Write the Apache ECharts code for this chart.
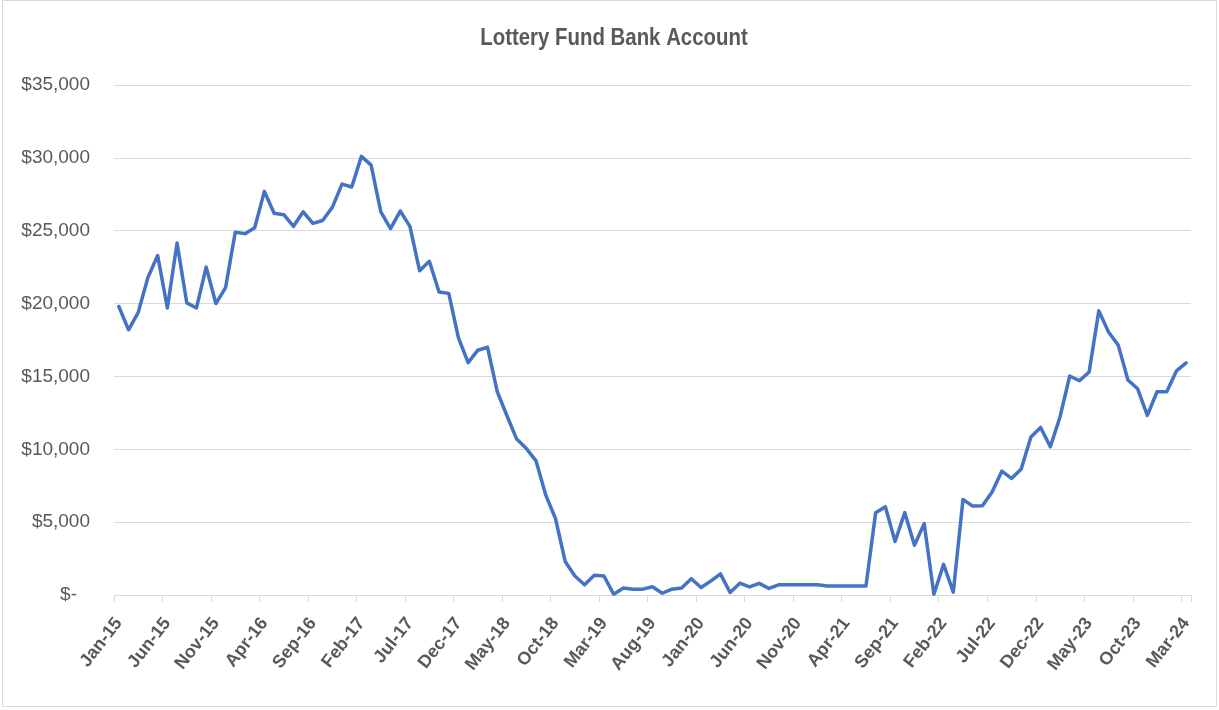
<!DOCTYPE html>
<html>
<head>
<meta charset="utf-8">
<script src="https://cdn.jsdelivr.net/npm/echarts@6/dist/echarts.min.js"></script>
<style>
html,body{margin:0;padding:0;background:#fff;}
#chart{width:1219px;height:710px;}
</style>
</head>
<body>
<div id="chart"></div>
<script>
var titleText = 'Lottery Fund Bank Account';

var months = [
  'Jan-15','Feb-15','Mar-15','Apr-15','May-15','Jun-15','Jul-15','Aug-15','Sep-15','Oct-15','Nov-15','Dec-15',
  'Jan-16','Feb-16','Mar-16','Apr-16','May-16','Jun-16','Jul-16','Aug-16','Sep-16','Oct-16','Nov-16','Dec-16',
  'Jan-17','Feb-17','Mar-17','Apr-17','May-17','Jun-17','Jul-17','Aug-17','Sep-17','Oct-17','Nov-17','Dec-17',
  'Jan-18','Feb-18','Mar-18','Apr-18','May-18','Jun-18','Jul-18','Aug-18','Sep-18','Oct-18','Nov-18','Dec-18',
  'Jan-19','Feb-19','Mar-19','Apr-19','May-19','Jun-19','Jul-19','Aug-19','Sep-19','Oct-19','Nov-19','Dec-19',
  'Jan-20','Feb-20','Mar-20','Apr-20','May-20','Jun-20','Jul-20','Aug-20','Sep-20','Oct-20','Nov-20','Dec-20',
  'Jan-21','Feb-21','Mar-21','Apr-21','May-21','Jun-21','Jul-21','Aug-21','Sep-21','Oct-21','Nov-21','Dec-21',
  'Jan-22','Feb-22','Mar-22','Apr-22','May-22','Jun-22','Jul-22','Aug-22','Sep-22','Oct-22','Nov-22','Dec-22',
  'Jan-23','Feb-23','Mar-23','Apr-23','May-23','Jun-23','Jul-23','Aug-23','Sep-23','Oct-23','Nov-23','Dec-23',
  'Jan-24','Feb-24','Mar-24'
];

var balance = [
  19800, 18200, 19400, 21800, 23300, 19700, 24150, 20050, 19700, 22500, 20000, 21100,
  24900, 24800, 25200, 27700, 26200, 26100, 25300, 26300, 25500, 25700, 26600, 28200,
  28000, 30100, 29500, 26300, 25150, 26350, 25300, 22250, 22900, 20800, 20700, 17650,
  15950, 16800, 17000, 13950, 12300, 10700, 10050, 9200, 6850, 5250, 2300, 1300,
  700, 1350, 1300, 50, 480, 400, 400, 570, 120, 400, 480, 1120,
  510, 950, 1450, 170, 810, 550, 800, 450, 700, 700, 700, 700,
  700, 620, 620, 620, 620, 620, 5650, 6050, 3670, 5650, 3420, 4900,
  50, 2100, 200, 6550, 6100, 6130, 7070, 8500, 8000, 8650, 10850, 11500,
  10170, 12220, 15030, 14700, 15300, 19500, 18050, 17150, 14750, 14150, 12330, 13950,
  13950, 15380, 15930
];

var yMin = 0, yMax = 35000, yStep = 5000;

var chart = echarts.init(document.getElementById('chart'));
var gray = '#595959';
chart.setOption({
  animation: false,
  backgroundColor: '#ffffff',
  graphic: [{
    type: 'rect',
    shape: {x: 2.5, y: 0.5, width: 1214, height: 706},
    style: {fill: 'none', stroke: '#D9D9D9', lineWidth: 1},
    silent: true, z: -1
  }, {
    type: 'text',
    x: 614,
    y: 38,
    scaleX: 0.85,
    silent: true,
    style: {
      x: 0, y: 0,
      text: titleText,
      font: 'bold 24px "Liberation Sans", Arial, sans-serif',
      fill: gray,
      textAlign: 'center',
      textVerticalAlign: 'middle',
      verticalAlign: 'middle'
    }
  }],
  grid: {left: 114, right: 28, top: 85, bottom: 115, containLabel: false},
  xAxis: {
    type: 'category',
    data: months,
    boundaryGap: true,
    axisLine: {show: true, lineStyle: {color: '#D9D9D9', width: 1}},
    axisTick: {show: true, interval: 4, length: 7, lineStyle: {color: '#D9D9D9'}},
    axisLabel: {
      interval: 4,
      rotate: 52,
      margin: 25,
      fontFamily: '"Liberation Sans", sans-serif',
      fontWeight: 'bold',
      fontSize: 18,
      color: gray
    },
    splitLine: {show: false}
  },
  yAxis: {
    type: 'value',
    min: yMin,
    max: yMax,
    interval: yStep,
    axisLine: {show: false},
    axisTick: {show: false},
    splitLine: {lineStyle: {color: '#D9D9D9', width: 1}},
    axisLabel: {
      margin: 24,
      fontFamily: '"Liberation Sans", sans-serif',
      fontSize: 19,
      color: gray,
      formatter: function (v) {
        if (v === 0) return '{z|$-}';
        return '$' + v.toLocaleString('en-US');
      },
      rich: {
        z: {fontFamily: '"Liberation Sans", sans-serif', fontSize: 19, color: gray, padding: [0, 13, 0, 0]}
      }
    }
  },
  series: [{
    type: 'line',
    data: balance,
    showSymbol: false,
    smooth: false,
    lineStyle: {color: '#4472C4', width: 3.5, join: 'round', cap: 'round'},
    itemStyle: {color: '#4472C4'}
  }]
});
</script>
</body>
</html>
